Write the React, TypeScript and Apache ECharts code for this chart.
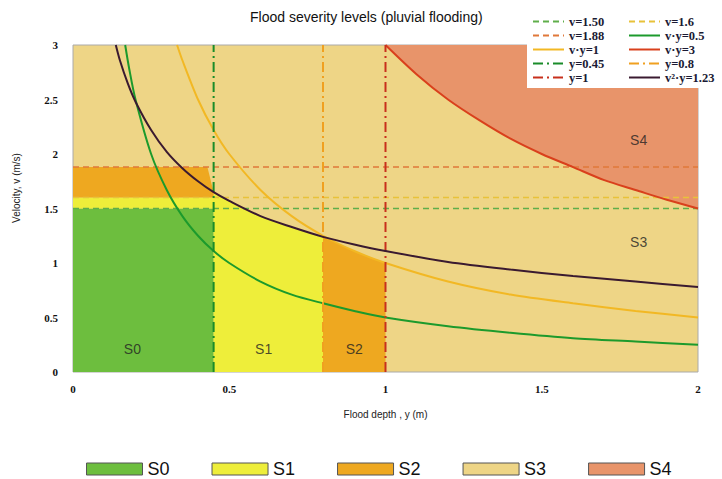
import React, { useEffect, useRef } from "react";
import * as echarts from "echarts";

// ---- Zone colours / names
const zoneNames = ["S0", "S1", "S2", "S3", "S4"];
const zoneColors = ["#6dbe3e", "#eeee3a", "#eea820", "#eed586", "#e8946a"];

// ---- Zone polygons (depth y [m], velocity v [m/s])
const s0Zone = [[0, 0], [0.45, 0], [0.45, 1.5], [0, 1.5]];
const s1Zone = [
  [0, 1.5], [0.45, 1.5], [0.45, 0], [0.8, 0], [0.8, 1.24], [0.75, 1.28], [0.7, 1.33],
  [0.65, 1.38], [0.6, 1.43], [0.55, 1.5], [0.5, 1.57], [0.45, 1.65], [0.45, 1.6], [0, 1.6],
];
const s2ZoneLeft = [[0, 1.6], [0.45, 1.6], [0.45, 1.65], [0.43, 1.88], [0, 1.88]];
const s2ZoneRight = [[0.8, 0], [1, 0], [1, 1], [0.9, 1.11], [0.8, 1.24]];

// ---- Curves
const depthVy05 = [0.167, 0.18, 0.2, 0.25, 0.3, 0.35, 0.4, 0.45, 0.5, 0.6, 0.7, 0.8, 0.9, 1.0, 1.2, 1.4, 1.6, 1.8, 2.0];
const velVy05 = [3.0, 2.78, 2.5, 2.0, 1.67, 1.43, 1.25, 1.11, 1.0, 0.83, 0.71, 0.63, 0.56, 0.5, 0.42, 0.36, 0.31, 0.28, 0.25];

const depthVy1 = [0.333, 0.35, 0.4, 0.45, 0.5, 0.6, 0.7, 0.8, 0.9, 1.0, 1.2, 1.4, 1.6, 1.8, 2.0];
const velVy1 = [3.0, 2.86, 2.5, 2.22, 2.0, 1.67, 1.43, 1.25, 1.11, 1.0, 0.83, 0.71, 0.63, 0.56, 0.5];

const depthVy3 = [1.0, 1.1, 1.2, 1.3, 1.4, 1.5, 1.6, 1.7, 1.8, 1.9, 2.0];
const velVy3 = [3.0, 2.73, 2.5, 2.31, 2.14, 2.0, 1.88, 1.76, 1.67, 1.58, 1.5];

const depthV2y = [0.137, 0.15, 0.175, 0.2, 0.25, 0.3, 0.35, 0.4, 0.45, 0.5, 0.6, 0.7, 0.8, 0.9, 1.0, 1.2, 1.4, 1.6, 1.8, 2.0];
const velV2y = [3.0, 2.86, 2.65, 2.48, 2.22, 2.02, 1.87, 1.75, 1.65, 1.57, 1.43, 1.33, 1.24, 1.17, 1.11, 1.01, 0.94, 0.88, 0.83, 0.78];

// ---- Threshold lines
const hLevels = [1.5, 1.6, 1.88];
const vLevels = [0.45, 0.8, 1.0];

// ---- Zone label positions (y, v, text)
const zoneLabels = [
  [0.19, 0.21, "S0"],
  [0.61, 0.21, "S1"],
  [0.9, 0.21, "S2"],
  [1.81, 1.19, "S3"],
  [1.81, 2.13, "S4"],
];

const legendLeftCol = ["v=1.50", "v=1.88", "v·y=1", "y=0.45", "y=1"];
const legendRightCol = ["v=1.6", "v·y=0.5", "v·y=3", "y=0.8", "v²·y=1.23"];

const zip = (xs: number[], ys: number[]) => xs.map((x, i) => [x, ys[i]]);

function zoneSeries(name: string, color: string, polys: number[][][]) {
  return {
    type: "custom",
    name,
    z: 1,
    silent: true,
    itemStyle: { color },
    data: polys.map((_, i) => [i]),
    renderItem: (params: any, api: any) => {
      const poly = polys[params.dataIndex];
      return {
        type: "polygon",
        shape: { points: poly.map((p) => api.coord(p)) },
        style: { fill: color },
      };
    },
  };
}

function lineSeries(name: string, data: number[][], color: string, type: any, width: number, smooth: any = false) {
  return {
    type: "line",
    name,
    z: 2,
    data,
    symbol: "none",
    smooth,
    silent: true,
    lineStyle: { color, type, width },
    itemStyle: { color },
  };
}

const dashed = [6, 4];
const dashDot = [10, 4, 2, 4];

const s4Zone = [...zip(depthVy3, velVy3), [2, 3]];

const lineLegendCommon = {
  orient: "vertical",
  selectedMode: false,
  top: 15,
  padding: 0,
  itemWidth: 31,
  itemHeight: 10,
  itemGap: 1,
  itemStyle: { opacity: 0 },
  textStyle: { fontFamily: "Liberation Serif", fontWeight: "bold", fontSize: 12.5, lineHeight: 12.5, color: "#1a1a33" },
};

const option: any = {
  animation: false,
  backgroundColor: "#ffffff",
  title: {
    text: "Flood severity levels (pluvial flooding)",
    left: 250,
    top: 10,
    padding: 0,
    textStyle: { fontFamily: "Liberation Sans, Arial", fontSize: 14, fontWeight: "normal", color: "#111" },
  },
  grid: {
    left: 73,
    right: 24,
    top: 45,
    bottom: 107,
    show: true,
    backgroundColor: zoneColors[3],
    borderColor: "#aaaaaa",
    borderWidth: 1,
  },
  xAxis: {
    type: "value",
    min: 0,
    max: 2,
    interval: 0.5,
    name: "Flood depth , y (m)",
    nameLocation: "middle",
    nameGap: 37,
    nameTextStyle: { fontFamily: "Liberation Sans, Arial", fontSize: 10, color: "#222" },
    axisLine: { show: false },
    axisTick: { show: false },
    splitLine: { show: false },
    axisLabel: { margin: 11, fontFamily: "Liberation Serif", fontWeight: "bold", fontSize: 11, color: "#111" },
  },
  yAxis: {
    type: "value",
    min: 0,
    max: 3,
    interval: 0.5,
    axisLine: { show: false },
    axisTick: { show: false },
    splitLine: { show: false },
    axisLabel: { margin: 15, fontFamily: "Liberation Serif", fontWeight: "bold", fontSize: 11, color: "#111" },
  },
  graphic: [
    {
      type: "text",
      x: 16,
      y: 188,
      rotation: Math.PI / 2,
      style: {
        text: "Velocity, v (m/s)",
        font: "10px 'Liberation Sans', Arial",
        fill: "#222",
        align: "center",
        verticalAlign: "middle",
      },
    },
    {
      type: "rect",
      z: 3,
      shape: { x: 527, y: 5, width: 174, height: 83 },
      style: { fill: "#ffffff" },
    },
  ],
  legend: [
    {
      data: zoneNames,
      selectedMode: false,
      icon: "rect",
      left: 86,
      top: 460,
      padding: 0,
      itemWidth: 56,
      itemHeight: 12,
      itemGap: 42,
      itemStyle: { borderColor: "#555", borderWidth: 1 },
      textStyle: { fontFamily: "Liberation Sans, Arial", fontSize: 18, color: "#111" },
    },
    { ...lineLegendCommon, data: legendLeftCol, left: 532 },
    { ...lineLegendCommon, data: legendRightCol, left: 628 },
  ],
  series: [
    zoneSeries("S0", zoneColors[0], [s0Zone]),
    zoneSeries("S1", zoneColors[1], [s1Zone]),
    zoneSeries("S2", zoneColors[2], [s2ZoneLeft, s2ZoneRight]),
    zoneSeries("S3", zoneColors[3], []),
    zoneSeries("S4", zoneColors[4], [s4Zone]),
    lineSeries("v=1.50", [[0, hLevels[0]], [2, hLevels[0]]], "#5fae4a", dashed, 1.5),
    lineSeries("v=1.6", [[0, hLevels[1]], [2, hLevels[1]]], "#e8c23a", dashed, 1.5),
    lineSeries("v=1.88", [[0, hLevels[2]], [2, hLevels[2]]], "#e0783a", dashed, 1.5),
    lineSeries("v·y=0.5", zip(depthVy05, velVy05), "#1c9a2c", "solid", 2, 0.3),
    lineSeries("v·y=1", zip(depthVy1, velVy1), "#f2b824", "solid", 2, 0.3),
    lineSeries("v·y=3", zip(depthVy3, velVy3), "#d9401c", "solid", 2, 0.3),
    lineSeries("y=0.45", [[vLevels[0], 0], [vLevels[0], 3]], "#1a8c2a", dashDot, 2),
    lineSeries("y=0.8", [[vLevels[1], 0], [vLevels[1], 3]], "#f0a020", dashDot, 2),
    lineSeries("y=1", [[vLevels[2], 0], [vLevels[2], 3]], "#c8301c", dashDot, 2),
    lineSeries("v²·y=1.23", zip(depthV2y, velV2y), "#3a1a30", "solid", 2, 0.3),
    {
      type: "scatter",
      name: "zoneLabels",
      z: 3,
      silent: true,
      symbolSize: 0,
      data: zoneLabels,
      label: {
        show: true,
        position: "inside",
        formatter: (p: any) => p.data[2],
        fontFamily: "Liberation Sans, Arial",
        fontSize: 14,
        color: "#222",
      },
    },
  ],
};

export default function App() {
  const ref = useRef<HTMLDivElement>(null);
  useEffect(() => {
    const chart = echarts.init(ref.current!, null, { renderer: "svg" });
    chart.setOption(option);
    return () => chart.dispose();
  }, []);
  return <div ref={ref} style={{ position: "fixed", left: 0, top: 0, width: 722, height: 479 }} />;
}
